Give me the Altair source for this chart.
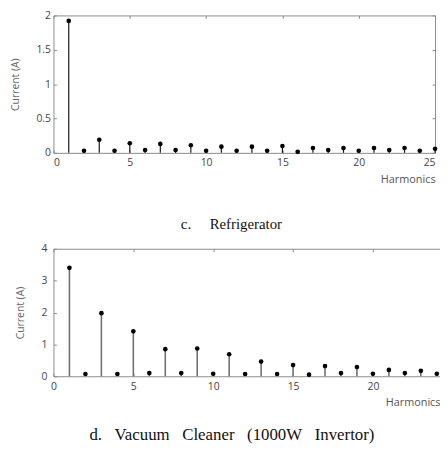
import altair as alt
import pandas as pd

# ---- data ----
fridge_harmonics = list(range(1, 26))
fridge_current = [1.92, 0.03, 0.19, 0.03, 0.14, 0.04, 0.13, 0.04, 0.11, 0.03,
                  0.09, 0.03, 0.09, 0.03, 0.10, 0.015, 0.07, 0.04, 0.07, 0.03,
                  0.07, 0.04, 0.07, 0.03, 0.06]
vacuum_harmonics = list(range(1, 25))
vacuum_current = [3.40, 0.07, 1.98, 0.07, 1.41, 0.10, 0.85, 0.10, 0.87, 0.08,
                  0.69, 0.07, 0.46, 0.07, 0.35, 0.05, 0.32, 0.10, 0.29, 0.08,
                  0.20, 0.10, 0.17, 0.08]
fridge_x_ticks = [0, 5, 10, 15, 20, 25]
vacuum_x_ticks = [0, 5, 10, 15, 20]
fridge_y_ticks = [0, 0.5, 1, 1.5, 2]
vacuum_y_ticks = [0, 1, 2, 3, 4]
fridge_caption = "c.\u00a0\u00a0\u00a0\u00a0\u00a0Refrigerator"
vacuum_caption = ("d.\u00a0\u00a0\u00a0Vacuum\u00a0\u00a0\u00a0Cleaner"
                  "\u00a0\u00a0\u00a0(1000W\u00a0\u00a0\u00a0Invertor)")

FONT = "Open Sans"
FRAME = "#8c8c8c"


def tick_axis(orient, vals):
    return alt.Axis(orient=orient, values=vals, offset=-3, tickSize=3,
                    tickColor=FRAME, tickWidth=1, labels=False, domain=False,
                    grid=False, title=None)


def line_axis(orient, show):
    return alt.Axis(orient=orient, ticks=False, labels=False, domain=show,
                    domainColor=FRAME, domainWidth=1, grid=False, title=None)


def panel(h, v, x_max, x_ticks, y_max, y_ticks, width, height, stem_color,
          stem_width, label_pad, title_pad, xtitle_y, right_side,
          caption, caption_size, caption_dx, caption_offset):
    df = pd.DataFrame({"h": h, "v": v})
    xs = alt.Scale(domain=[0, x_max], nice=False, zero=False)
    ys = alt.Scale(domain=[0, y_max], nice=False)
    main_x = alt.Axis(orient="bottom", values=x_ticks, ticks=False, domain=True,
                      domainColor=FRAME, domainWidth=1,
                      grid=False, labelFlush=right_side, labelPadding=5,
                      labelFont=FONT, labelFontSize=10.5, labelColor="#444",
                      title="Harmonics", titleFont=FONT, titleFontSize=11,
                      titleFontWeight="normal", titleColor="#555",
                      titleAlign="right", titleBaseline="middle",
                      titleX=width, titleY=xtitle_y)
    main_y = alt.Axis(orient="left", values=y_ticks, format="~g", ticks=False,
                      domain=True, domainColor=FRAME, domainWidth=1,
                      grid=False, labelFlush=False,
                      labelPadding=label_pad, labelFont=FONT, labelFontSize=10.5,
                      labelColor="#444", title="Current (A)", titleFont=FONT,
                      titleFontSize=10.5, titleFontWeight="normal",
                      titleColor="#666", titlePadding=title_pad)
    base = alt.Chart(df)
    stems = base.mark_rule(color=stem_color, strokeWidth=stem_width).encode(
        x=alt.X("h:Q", scale=xs, axis=main_x),
        y=alt.Y("v:Q", scale=ys, axis=main_y),
        y2=alt.datum(0),
    )
    dots = base.mark_circle(size=22, color="black", opacity=1).encode(
        x=alt.X("h:Q", scale=xs, axis=tick_axis("bottom", x_ticks)),
        y=alt.Y("v:Q", scale=ys, axis=tick_axis("left", y_ticks)),
    )
    right_ticks = tick_axis("right", y_ticks) if right_side else line_axis("right", False)
    ghost = base.mark_circle(opacity=0).encode(
        x=alt.X("h:Q", scale=xs, axis=tick_axis("top", x_ticks)),
        y=alt.Y("v:Q", scale=ys, axis=right_ticks),
    )
    frame = base.mark_circle(opacity=0).encode(
        x=alt.X("h:Q", scale=xs, axis=line_axis("top", True)),
        y=alt.Y("v:Q", scale=ys, axis=line_axis("right", right_side)),
    )
    return alt.layer(stems, dots, ghost, frame).resolve_axis(
        x="independent", y="independent"
    ).properties(
        width=width, height=height,
        title=alt.TitleParams(caption, orient="bottom", anchor="middle",
                              frame="group", dx=caption_dx,
                              offset=caption_offset, font="Liberation Serif",
                              fontSize=caption_size, fontWeight="normal",
                              color="#111"),
    )


top = panel(fridge_harmonics, fridge_current, 25, fridge_x_ticks, 2,
            fridge_y_ticks, 386, 139, "#1a1a1a", 1.2, 3, 15.5, 27, True,
            fridge_caption, 15, -13, 33)
bottom = panel(vacuum_harmonics, vacuum_current, 24.2, vacuum_x_ticks, 4,
               vacuum_y_ticks, 391, 129, "#707070", 1.6, 6.5, 15.7, 27,
               False, vacuum_caption, 17, -15, 19)

chart = alt.concat(top, bottom, columns=1, spacing=12, align="none").properties(
    padding={"left": 2, "top": 0, "right": 0, "bottom": 0}
).configure_view(stroke=None)

chart.save("out.html", embed_options={"renderer": "svg", "actions": False})
